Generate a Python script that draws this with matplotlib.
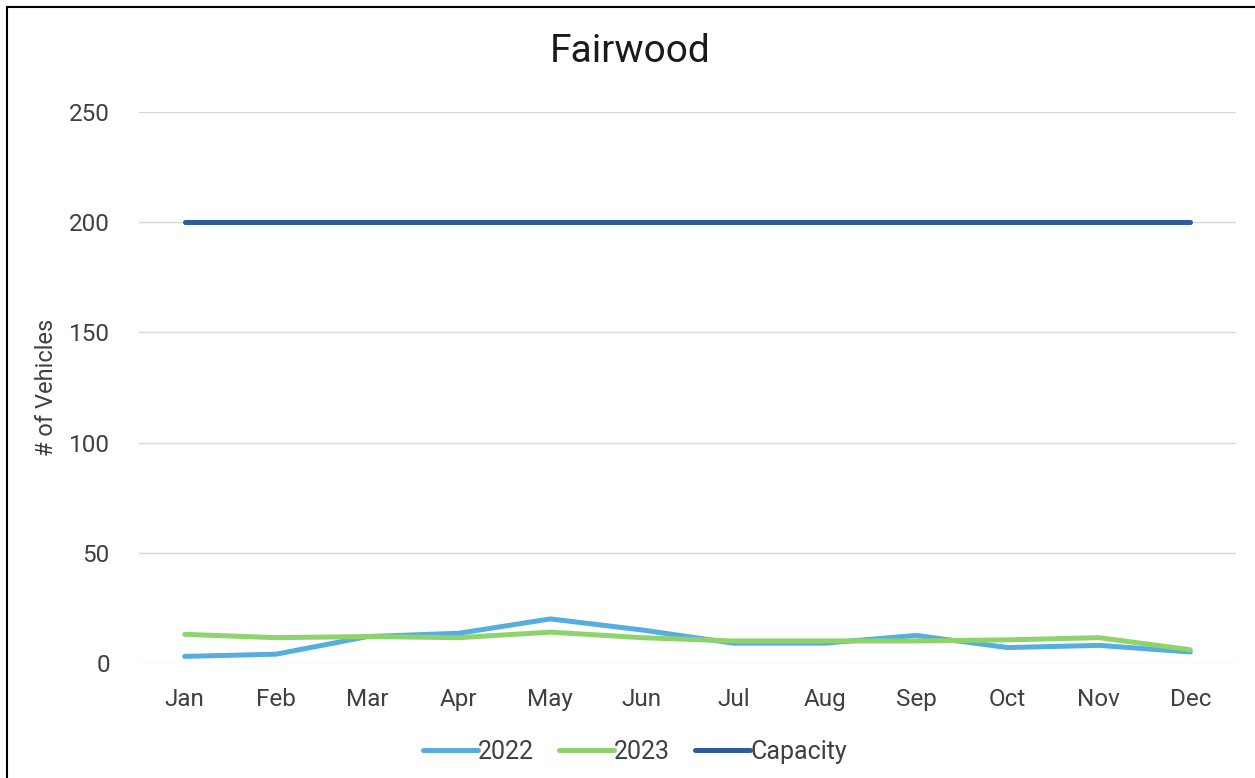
import matplotlib
matplotlib.use("Agg")
import matplotlib.pyplot as plt
from matplotlib.lines import Line2D

months = ["Jan", "Feb", "Mar", "Apr", "May", "Jun", "Jul", "Aug", "Sep", "Oct", "Nov", "Dec"]
y2022 = [3, 4, 12, 13.5, 20, 15, 9, 9, 12.5, 7, 8, 5]
y2023 = [13, 11.5, 12, 11.5, 14, 11.5, 10, 10, 10, 10.5, 11.5, 6]
capacity = [200] * 12
yticks = [0, 50, 100, 150, 200, 250]

plt.rcParams['font.family'] = ['Roboto', 'DejaVu Sans']

W, H = 1255, 778
fig = plt.figure(figsize=(W / 100, H / 100), dpi=100)
left, right, top, bottom = 139, 1236, 112, 663
ax = fig.add_axes([left / W, 1 - bottom / H, (right - left) / W, (bottom - top) / H])

x = list(range(len(months)))
ax.plot(x, y2022, color="#56ADE0", lw=3.6, label="2022", solid_capstyle="round", solid_joinstyle="round")
ax.plot(x, y2023, color="#8ED36C", lw=3.6, label="2023", solid_capstyle="round", solid_joinstyle="round")
ax.plot(x, capacity, color="#2C5C9B", lw=3.6, label="Capacity", solid_capstyle="round", solid_joinstyle="round")

ax.set_xlim(-0.5, len(months) - 0.5)
ax.set_ylim(0, 250)
ax.set_yticks(yticks)
ax.set_xticks(x)
ax.set_xticklabels(months)
ax.grid(axis="y", color="#D9D9D9", lw=1)
ax.set_axisbelow(True)
for s in ax.spines.values():
    s.set_visible(False)
ax.tick_params(length=0, labelsize=17.5, labelcolor="#404040")
ax.tick_params(axis="y", pad=21)
ax.tick_params(axis="x", pad=18)
ax.set_ylabel("# of Vehicles", fontsize=17, color="#404040")
ax.yaxis.set_label_coords((58 - left) / (right - left), 0.5)

fig.text(630 / W, 1 - 52 / H, "Fairwood", fontsize=28, color="#1a1a1a", ha="center", va="center")

fig.legend(loc="center", bbox_to_anchor=(635 / W, 1 - 752 / H), ncol=3, frameon=False,
           fontsize=18, handlelength=2.2, handletextpad=0.0, columnspacing=1.0,
           labelcolor="#404040")

fig.add_artist(Line2D([7 / W, 7 / W], [0, 1 - 7 / H], color="black", lw=1.5, transform=fig.transFigure))
fig.add_artist(Line2D([7 / W, 1], [1 - 7 / H, 1 - 7 / H], color="black", lw=1.5, transform=fig.transFigure))

fig.savefig("out.png", dpi=100)
